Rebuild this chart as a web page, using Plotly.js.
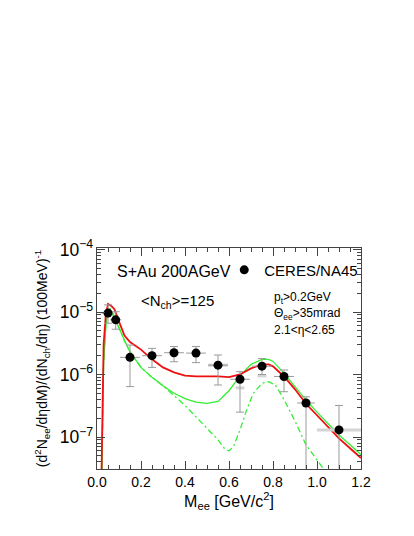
<!DOCTYPE html>
<html>
<head>
<meta charset="utf-8">
<script src="https://cdn.plot.ly/plotly-3.0.1.min.js"></script>
<style>
  html, body { margin: 0; padding: 0; background: #fff; }
  #chartplot { width: 414px; height: 536px; }
</style>
</head>
<body>
<div id="chartplot"></div>
<script>
// CERES/NA45 data points, M_ee in GeV/c^2
const dataX = [0.05, 0.085, 0.15, 0.25, 0.35, 0.45, 0.55, 0.65, 0.75, 0.85, 0.95, 1.10];
const dataY = [9.6e-6, 7.5e-6, 1.88e-6, 2.0e-6, 2.23e-6, 2.2e-6, 1.41e-6, 8.4e-7, 1.36e-6, 9.3e-7, 3.5e-7, 1.3e-7];
const statHi = [1.3e-5, 1.01e-5, 2.96e-6, 2.62e-6, 2.8e-6, 2.8e-6, 2.05e-6, 1.11e-6, 1.8e-6, 1.18e-6, 4.4e-7, 3.2e-7];
const statLo = [6.6e-6, 5.3e-6, 6.4e-7, 1.3e-6, 1.6e-6, 1.55e-6, 6.8e-7, 2.5e-7, 1.0e-6, 5.3e-7, 1e-8, 1e-8];
const binHalf = [0.03, 0.025, 0.045, 0.045, 0.045, 0.045, 0.045, 0.045, 0.045, 0.045, 0.04, 0];

// systematic bars (light gray)
const sysX = [0.55, 0.65, 0.75, 1.10];
const sysY = [1.41e-6, 6.1e-7, 9.5e-7, 1.3e-7];
const sysHalf = [0.045, 0.02, 0.02, 0.1];

// red curve
const redX = [0.02, 0.025, 0.03, 0.04, 0.05, 0.065, 0.08, 0.1, 0.125, 0.15, 0.2, 0.25, 0.3, 0.35, 0.4, 0.45, 0.5, 0.55, 0.6, 0.65, 0.7, 0.75, 0.78, 0.8, 0.85, 0.9, 0.95, 1.0, 1.05, 1.1, 1.15, 1.2];
const redY = [2e-8, 5e-7, 3e-6, 9e-6, 1.35e-5, 1.25e-5, 1.1e-5, 7e-6, 4.2e-6, 3.3e-6, 2.5e-6, 1.75e-6, 1.3e-6, 1.08e-6, 9.6e-7, 9.3e-7, 9.4e-7, 9.3e-7, 9.1e-7, 1.0e-6, 1.25e-6, 1.45e-6, 1.45e-6, 1.35e-6, 9.3e-7, 5.8e-7, 3.4e-7, 2.2e-7, 1.45e-7, 9.5e-8, 6.6e-8, 4.6e-8];

// green total (upper) curve
const greenX = [0.02, 0.025, 0.03, 0.04, 0.05, 0.06, 0.08, 0.1, 0.125, 0.15, 0.2, 0.25, 0.3, 0.35, 0.4, 0.45, 0.5, 0.55, 0.6, 0.65, 0.7, 0.75, 0.78, 0.8, 0.85, 0.9, 0.95, 1.0, 1.05, 1.1, 1.15, 1.2];
const greenY = [1e-8, 2e-7, 1.5e-6, 6e-6, 1.05e-5, 1.12e-5, 8e-6, 5.6e-6, 3.5e-6, 2.3e-6, 1.3e-6, 9e-7, 6.6e-7, 5e-7, 4.1e-7, 3.6e-7, 3.45e-7, 3.7e-7, 5.5e-7, 9.5e-7, 1.45e-6, 1.75e-6, 1.75e-6, 1.62e-6, 1.05e-6, 6.4e-7, 3.9e-7, 2.5e-7, 1.62e-7, 1.08e-7, 7.5e-8, 5.2e-8];

// green dash-dot (lower) curve
const greenLoX = [0.02, 0.025, 0.03, 0.04, 0.05, 0.06, 0.08, 0.1, 0.125, 0.15, 0.2, 0.25, 0.3, 0.35, 0.4, 0.45, 0.5, 0.55, 0.58, 0.6, 0.62, 0.65, 0.68, 0.71, 0.75, 0.78, 0.81, 0.84, 0.87, 0.9, 0.95, 1.0, 1.03, 1.06];
const greenLoY = [1e-8, 2e-7, 1.5e-6, 6e-6, 1.05e-5, 1.12e-5, 8e-6, 5.6e-6, 3.5e-6, 2.3e-6, 1.3e-6, 9e-7, 6.6e-7, 4.6e-7, 3.2e-7, 2.1e-7, 1.4e-7, 9e-8, 6.5e-8, 6e-8, 7e-8, 1.3e-7, 2.7e-7, 5e-7, 7.2e-7, 7.7e-7, 6.8e-7, 4.6e-7, 2.9e-7, 1.8e-7, 7.5e-8, 4.2e-8, 3e-8, 2.2e-8];

const FONT = 'Liberation Sans, Arial, sans-serif';
const GREEN = '#33ee33';

const traces = [
  { x: greenLoX, y: greenLoY, type: 'scatter', mode: 'lines', showlegend: false,
    line: { color: GREEN, width: 1.3, dash: '6px,3px,2px,3px' } },
  { x: greenX, y: greenY, type: 'scatter', mode: 'lines', showlegend: false,
    line: { color: GREEN, width: 1.3 } },
  { x: redX, y: redY, type: 'scatter', mode: 'lines', showlegend: false,
    line: { color: '#ee1111', width: 1.8 } },
  { x: sysX, y: sysY, type: 'scatter', mode: 'markers', showlegend: false, hoverinfo: 'skip',
    marker: { size: 1, opacity: 0 },
    error_x: { type: 'data', array: sysHalf, color: '#d4d4d4', thickness: 3, width: 0 } },
  { x: dataX, y: dataY, type: 'scatter', mode: 'markers', name: 'CERES/NA45',
    marker: { color: '#000', size: 9 },
    error_y: { type: 'data', symmetric: false,
      array: statHi.map((v, i) => v - dataY[i]),
      arrayminus: statLo.map((v, i) => dataY[i] - v),
      color: '#999', thickness: 1, width: 4 },
    error_x: { type: 'data', array: binHalf, color: '#999', thickness: 1, width: 0 } }
];

const layout = {
  width: 414, height: 536,
  margin: { l: 97, r: 53, t: 248, b: 67 },
  paper_bgcolor: '#fff', plot_bgcolor: '#fff',
  font: { family: FONT, color: '#000', size: 14 },
  showlegend: true,
  legend: { x: 0.482, y: 0.9, xanchor: 'left', yanchor: 'middle',
    font: { family: FONT, size: 15, color: '#000' }, bgcolor: 'rgba(0,0,0,0)', itemwidth: 30 },
  xaxis: {
    range: [0, 1.2], dtick: 0.2, tick0: 0, tickformat: '.1f',
    ticks: 'inside', ticklen: 8, tickcolor: '#444', mirror: 'ticks',
    showline: true, linecolor: '#444', linewidth: 1, showgrid: false, zeroline: false,
    minor: { ticks: 'inside', ticklen: 4, dtick: 0.05, tickcolor: '#444', showgrid: false },
    tickfont: { family: FONT, size: 14 },
    title: { text: 'M<sub>ee</sub> [GeV/c<sup>2</sup>]', font: { family: FONT, size: 16 }, standoff: 6 }
  },
  yaxis: {
    type: 'log', range: [-7.512, -3.976], dtick: 1, exponentformat: 'power',
    ticks: 'inside', ticklen: 8, tickcolor: '#444', mirror: 'ticks',
    showline: true, linecolor: '#444', linewidth: 1, showgrid: false, zeroline: false,
    minor: { ticks: 'inside', ticklen: 4, dtick: 'D1', tickcolor: '#444', showgrid: false },
    tickfont: { family: FONT, size: 14 },
    title: { text: '(d<sup>2</sup>N<sub>ee</sub>/dηdM)/(dN<sub>ch</sub>/dη) (100MeV)<sup>-1</sup>',
      font: { family: FONT, size: 14 }, standoff: 8 }
  },
  annotations: [
    { text: 'S+Au 200AGeV', xref: 'paper', yref: 'paper', x: 0.068, y: 0.893,
      xanchor: 'left', yanchor: 'middle', showarrow: false, font: { family: FONT, size: 16 } },
    { text: '&lt;N<sub>ch</sub>&gt;=125', xref: 'paper', yref: 'paper', x: 0.159, y: 0.757,
      xanchor: 'left', yanchor: 'middle', showarrow: false, font: { family: FONT, size: 15 } },
    { text: 'p<sub>t</sub>&gt;0.2GeV', xref: 'paper', yref: 'paper', x: 0.662, y: 0.772,
      xanchor: 'left', yanchor: 'middle', showarrow: false, font: { family: FONT, size: 12 } },
    { text: 'Θ<sub>ee</sub>&gt;35mrad', xref: 'paper', yref: 'paper', x: 0.662, y: 0.701,
      xanchor: 'left', yanchor: 'middle', showarrow: false, font: { family: FONT, size: 12 } },
    { text: '2.1&lt;η&lt;2.65', xref: 'paper', yref: 'paper', x: 0.662, y: 0.628,
      xanchor: 'left', yanchor: 'middle', showarrow: false, font: { family: FONT, size: 12 } }
  ]
};

Plotly.newPlot('chartplot', traces, layout, { displayModeBar: false, staticPlot: true });
</script>
</body>
</html>
